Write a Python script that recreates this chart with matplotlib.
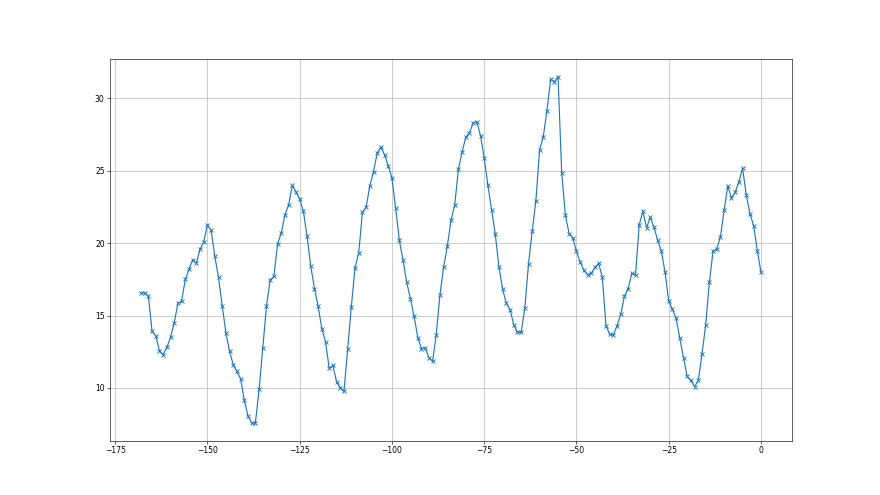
import matplotlib
matplotlib.use("Agg")
import matplotlib.pyplot as plt
import numpy as np

# x positions: -168 .. 0, one sample per step
steps = np.arange(-168, 1)

values = [
    16.56, 16.56, 16.33, 13.90, 13.60, 12.57, 12.30, 12.80, 13.50, 14.50,
    15.83, 15.99, 17.49, 18.18, 18.85, 18.60, 19.56, 20.10, 21.25, 20.88,
    19.08, 17.63, 15.69, 13.82, 12.53, 11.60, 11.14, 10.64, 9.14, 8.07,
    7.57, 7.60, 9.90,
    12.78, 15.64, 17.44, 17.70, 19.93, 20.69, 21.94, 22.63, 23.97, 23.53,
    23.02, 22.19, 20.46, 18.39, 16.86, 15.64, 14.10, 13.20, 11.35, 11.56,
    10.43, 10.01, 9.76, 12.71, 15.62, 18.30, 19.33, 22.12, 22.47, 23.94,
    24.91, 26.20, 26.62, 26.09, 25.33, 24.48, 22.40, 20.20, 18.82, 17.28,
    16.17, 14.95, 13.47, 12.71, 12.78, 12.09, 11.83, 13.68, 16.40, 18.34,
    19.77, 21.57, 22.60, 25.09, 26.26, 27.30, 27.59, 28.28, 28.37, 27.40,
    25.86,
    23.99, 22.28, 20.60, 18.34, 16.80, 15.83, 15.41, 14.37, 13.84, 13.84,
    15.50, 18.55, 20.81, 22.91, 26.42, 27.33, 29.13, 31.28, 31.12, 31.47,
    24.84,
    21.92, 20.65, 20.35, 19.43, 18.68, 18.11, 17.81, 17.90, 18.32, 18.60,
    17.63, 14.30, 13.70, 13.65, 14.30, 15.09, 16.33, 16.86, 17.90, 17.79,
    21.25, 22.19, 21.04, 21.78, 21.09, 20.19, 19.43, 17.99, 16.00, 15.43,
    14.80, 13.45, 12.09, 10.80, 10.52, 10.10, 10.52, 12.32, 14.33, 17.28,
    19.42, 19.60, 20.40, 22.26, 23.92, 23.11, 23.50, 24.20, 25.17, 23.33,
    22.03, 21.20, 19.47, 17.97,
]

fig = plt.figure(figsize=(16, 9), dpi=55)
ax = fig.add_subplot()
ax.plot(steps, values, marker="x", markersize=6, markeredgewidth=1.2)
ax.grid(True)

fig.savefig("out.png", dpi=55)
plt.close(fig)
